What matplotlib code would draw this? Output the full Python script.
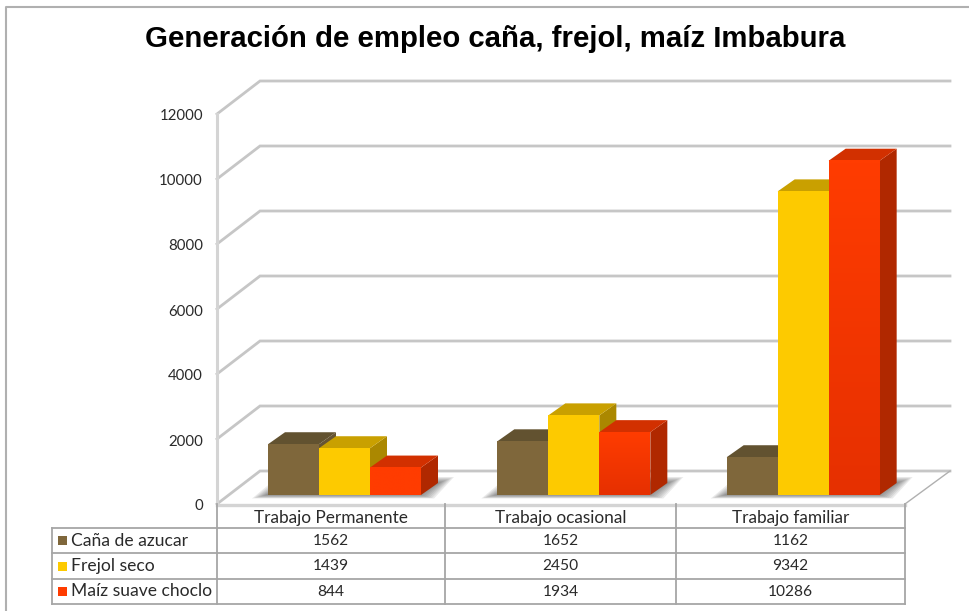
import matplotlib
matplotlib.use('Agg')
import matplotlib.pyplot as plt
import numpy as np
from matplotlib.colors import to_rgb
from matplotlib.patches import Polygon

categorias = ['Trabajo Permanente', 'Trabajo ocasional', 'Trabajo familiar']
series = ['Caña de azucar', 'Frejol seco', 'Maíz suave choclo']
cana = [1562, 1652, 1162]
frejol = [1439, 2450, 9342]
maiz = [844, 1934, 10286]
y_ticks = [0, 2000, 4000, 6000, 8000, 10000, 12000]

colores = ['#7f673b', '#fdca00', '#ff3c00']
colores_top = ['#625230', '#c9a000', '#d23000']
colores_lado = ['#665433', '#ab8800', '#b02800']
texto = '#2a2a2a'

W, H = 969, 611
FONT = 'Lato'

# eje principal: x en categorias, y en valores
x0, x1, y0, y12 = 217, 905, 504, 114
fig = plt.figure(figsize=(W / 100, H / 100), dpi=100)
ax = fig.add_axes([x0 / W, 1 - y0 / H, (x1 - x0) / W, (y0 - y12) / H])

# tamano de un pixel en unidades de datos
px = len(categorias) / (x1 - x0)
py = y_ticks[-1] / (y0 - y12)
dx, dy = 43 * px, 33 * py   # profundidad de las paredes


def poly(pts, color, z, alpha=1.0):
    ax.add_patch(Polygon(pts, closed=True, fc=color, ec='none', zorder=z, alpha=alpha, clip_on=False))


def gradiente(xl, xr, yb, yt, arriba, abajo, z):
    # relleno vertical para las barras rojas
    mezcla = np.linspace(0, 1, 64)[:, None]
    img = (1 - mezcla) * np.array(to_rgb(arriba)) + mezcla * np.array(to_rgb(abajo))
    ax.imshow(img[:, None, :], extent=(xl, xr, yb, yt), aspect='auto', zorder=z, clip_on=False,
              interpolation='bilinear')


# paredes y rejilla
grid = '#c6c6c6'
for t in y_ticks:
    ax.plot([0, dx, 3 + dx + 2 * px], [t, t + dy, t + dy], color=grid, lw=2.0, zorder=1, clip_on=False,
            solid_joinstyle='miter')
ax.plot([0, 0], [0, y_ticks[-1]], color='#d4d4d4', lw=2.2, zorder=1, clip_on=False)
ax.plot([3, 3 + dx + 2 * px], [0, dy], color='#b0b0b0', lw=1.0, zorder=1, clip_on=False)
ax.plot([0, 3], [-1 * py, -1 * py], color='#d4d4d4', lw=2.4, zorder=1, clip_on=False)

for t in y_ticks:
    ax.text(-14 * px, t - 2.5 * py, str(t), ha='right', va='center', fontsize=10.8, family=FONT, color=texto,
            clip_on=False)

# barras
bw = 51 * px
base_y = 9 * py
bdx, bdy = 17 * px, 12 * py
valores = [cana, frejol, maiz]
for c in range(len(categorias)):
    left = c + 51 * px
    # sombra difusa sobre el piso, de afuera hacia adentro
    for k in range(8):
        m = k * 2.0
        izq = left - (16 - m) * px
        der = left + (186 - m) * px
        abajo = base_y - (3.5 - m * 0.25) * py
        arriba = base_y + (18 - m * 0.4) * py
        poly([(izq, abajo), (der - 20 * px, abajo), (der, arriba), (izq + 26 * px, arriba)], '#4a4a4a', 2, 0.11)
    for s in range(len(series)):
        v = valores[s][c]
        xl = left + s * bw
        xr = xl + bw
        b = base_y
        # lado, tapa y frente
        poly([(xr, b), (xr + bdx, b + bdy), (xr + bdx, b + v + bdy), (xr, b + v)], colores_lado[s], 3 + s)
        poly([(xl, b + v), (xl + bdx, b + v + bdy), (xr + bdx, b + v + bdy), (xr, b + v)], colores_top[s], 3 + s)
        if s == 2:
            oscuro = '#e63000' if v > 1000 else colores[s]
            gradiente(xl, xr, b, b + v, colores[s], oscuro, 3 + s)
        else:
            poly([(xl, b), (xl, b + v), (xr, b + v), (xr, b)], colores[s], 3 + s)

ax.set_xlim(0, len(categorias))
ax.set_ylim(0, y_ticks[-1])
ax.axis('off')

# capa en pixeles para tabla, borde y titulo
ov = fig.add_axes([0, 0, 1, 1], zorder=5)
ov.set_xlim(0, W)
ov.set_ylim(H, 0)
ov.axis('off')
ov.patch.set_alpha(0)

linea = '#a6a6a6'
ov.plot([6.5, 6.5, W], [H, 6.5, 6.5], color='#b0b0b0', lw=1.5)

col_x = [217, 445.5, 676, 905]
fila_y = [504, 528, 553, 579, 604]
for x in col_x:
    ov.plot([x, x], [fila_y[0], fila_y[-1]], color=linea, lw=1.3)
ov.plot([52, 52], [fila_y[1], fila_y[-1]], color=linea, lw=1.3)
for y in fila_y[1:]:
    ov.plot([52, 905], [y, y], color=linea, lw=1.3)

for i, cat in enumerate(categorias):
    xc = (col_x[i] + col_x[i + 1]) / 2
    ov.text(xc, 518, cat, ha='center', va='center', fontsize=12.4, family=FONT, color=texto)
    for s in range(len(series)):
        yc = (fila_y[s + 1] + fila_y[s + 2]) / 2
        ov.text(xc, yc + 0.5, str(valores[s][i]), ha='center', va='center', fontsize=11.2, family=FONT,
                color=texto)

for s, nombre in enumerate(series):
    yc = (fila_y[s + 1] + fila_y[s + 2]) / 2
    ov.add_patch(plt.Rectangle((58, yc - 4.5), 9, 9, fc=colores[s], ec='none'))
    ov.text(71, yc, nombre, ha='left', va='center', fontsize=12.6, family=FONT, color=texto)

ov.text(495.5, 39, 'Generación de empleo caña, frejol, maíz Imbabura', ha='center', va='center',
        fontsize=21.2, fontweight='bold', family='Liberation Sans', color='black')

fig.savefig('out.png', dpi=100, facecolor='white')
